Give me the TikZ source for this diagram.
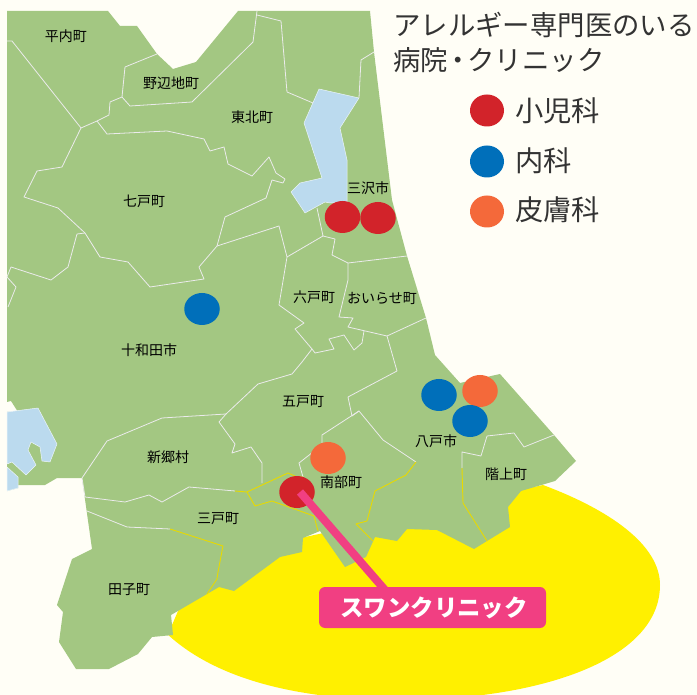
\documentclass[tikz,border=0pt]{standalone}
\usepackage{fontspec}
\setmainfont{Noto Sans CJK JP}
\definecolor{cream}{HTML}{FFFEF6}
\definecolor{land}{HTML}{A3C782}
\definecolor{lake}{HTML}{BBDAEE}
\definecolor{sea}{HTML}{FFF000}
\definecolor{bordery}{HTML}{E8DA00}
\definecolor{cred}{HTML}{D2232A}
\definecolor{cblue}{HTML}{006FBA}
\definecolor{corange}{HTML}{F4693A}
\definecolor{cpink}{HTML}{F13F82}
\definecolor{heading}{HTML}{333333}
\tikzset{
  wb/.style={draw=white!92!black,line width=0.8pt,line join=round},
  yb/.style={draw=bordery,line width=0.9pt,line join=round},
  lakeshape/.style={fill=lake,draw=white!70!lake,line width=0.5pt,line join=round},
  town/.style={font=\fontsize{14}{14}\selectfont,text=black,inner sep=0pt},
  dot/.style={ellipse,minimum width=35.5pt,minimum height=32pt,inner sep=0pt},
  legendtext/.style={font=\fontsize{28.3}{30}\selectfont,text=heading,inner sep=0pt,anchor=west},
}
\usetikzlibrary{shapes.geometric}
\begin{document}
\begin{tikzpicture}[x=1pt,y=-1pt]
\useasboundingbox (0,0) rectangle (697,695);
\fill[cream] (0,0) rectangle (697,695);
% yellow sea shape
\fill[sea] (543,485) .. controls (610,510) and (660,545) .. (660,585)
  .. controls (660,660) and (540,700) .. (400,700)
  .. controls (300,700) and (215,680) .. (165,632) -- (172,625) -- (200,560) -- cycle;
% land
\fill[land] (7,11) -- (108,11) -- (120,26) -- (137,26) -- (157,54) -- (173,69) -- (196,62) -- (238,11)
  -- (370,11) -- (374,52) -- (392,200) -- (407,256) -- (426,318) -- (435,355) -- (460,383) -- (500,374)
  -- (554,435) -- (576,461) -- (555,481) -- (521,491) -- (508,507) -- (510,527) -- (487,541) -- (474,549)
  -- (437,530) -- (407,529) -- (397,541) -- (375,537) -- (366,557) -- (345,567) -- (320,531) -- (303,538)
  -- (302,552) -- (280,557) -- (234,591) -- (219,587) -- (207,594) -- (171,615) -- (173,635) -- (152,637)
  -- (138,654) -- (109,669) -- (76,669) -- (59,642) -- (63,612) -- (57,605) -- (72,559) -- (92,549)
  -- (82,478) -- (57,478) -- (45,485) -- (18,485) -- (18,488) -- (7,491) -- (7,412) -- (18,412) -- (11,401) -- (7,402) -- cycle;
% lakes
\path[lakeshape] (319,89) -- (359,98) -- (340,128) -- (347,160) -- (347,202) -- (330,203) -- (325,202)
  -- (305,213) -- (291,192) -- (300,183) -- (322,178) -- (304,123) -- cycle;
\path[lakeshape] (7,412) -- (38,408) -- (57,444) -- (50,462) -- (42,461) -- (40,447) -- (31,442) -- (28,450)
  -- (36,465) -- (26,475) -- (12,462) -- (7,464) -- cycle;
\path[lakeshape] (7,467) -- (18,477) -- (18,488) -- (7,491) -- cycle;
% white borders
\draw[wb] (7,41) -- (12,41) -- (81,128) -- (62,167) -- (37,171) -- (24,197) -- (58,208) -- (85,233) -- (100,257)
  -- (128,262) -- (150,287) -- (204,279) -- (199,267) -- (217,246) -- (225,217) -- (266,198) -- (272,180)
  -- (283,183) -- (285,179) -- (276,173) -- (269,157) -- (252,176) -- (228,164) -- (224,147) -- (210,151)
  -- (204,139) -- (167,131) -- (107,134) -- (97,121);
\draw[wb] (85,233) -- (77,234) -- (68,267) -- (51,280) -- (11,267) -- (7,277) -- (16,287) -- (8,307);
\draw[wb] (81,128) -- (97,121) -- (109,115) -- (110,102) -- (122,97) -- (125,67) -- (157,54);
\draw[wb] (122,97) -- (130,106) -- (192,102) -- (253,42) -- (257,11);
\draw[wb] (257,15) -- (281,21) -- (287,92) -- (313,103);
\draw[wb] (374,52) -- (361,60) -- (359,98);
\draw[wb] (217,246) -- (279,226) -- (287,257) -- (279,305) -- (304,323) -- (295,329) -- (312,349);
\draw[wb] (317,208) -- (323,236) -- (287,257);
\draw[wb] (323,236) -- (335,239) -- (332,255) -- (348,263) -- (407,256);
\draw[wb] (348,263) -- (348,280) -- (339,317) -- (353,318) -- (348,327) -- (387,336) -- (426,318);
\draw[wb] (387,336) -- (397,371) -- (348,397) -- (352,416);
\draw[wb] (312,349) -- (315,353) -- (334,349) -- (329,339) -- (344,335) -- (354,350) -- (362,343) -- (364,331);
\draw[wb] (312,349) -- (302,362) -- (292,374) -- (258,384) -- (226,414) -- (162,418) -- (107,441) -- (82,478);
\draw[wb] (226,414) -- (219,422) -- (235,444) -- (232,453) -- (251,447) -- (262,463) -- (262,483);
\draw[wb] (352,416) -- (359,411) -- (383,440) -- (416,462);
\draw[wb] (359,411) -- (322,435) -- (322,445) -- (299,463) -- (303,477);
\draw[wb] (82,478) -- (85,497) -- (125,502) -- (149,495) -- (162,502) -- (189,487) -- (235,491);
\draw[wb] (87,511) -- (127,527) -- (170,529);
% Hachinohe / Hashikami border
\draw[wb] (554,435) -- (524,447) -- (514,433) -- (487,436) -- (481,456) -- (462,452) -- (462,468);
% yellow borders
\draw[yb] (416,462) -- (406,475) -- (375,491) -- (367,521) -- (356,524) -- (373,541);
\draw[yb] (235,491) -- (247,492) -- (288,473) -- (297,477) -- (303,477);
\draw[yb] (247,492) -- (255,506) -- (272,501) -- (314,516) -- (318,531);
\draw[yb] (170,529) -- (223,546) -- (218,572) -- (217,579) -- (207,594);
\draw[yb] (462,468) -- (463,503) -- (487,541);
% town labels
\node[town] (hiranai) at (66,36) {平内町};
\node[town] (noheji) at (171,83) {野辺地町};
\node[town] (tohoku) at (252,117) {東北町};
\node[town] (shichinohe) at (144,201) {七戸町};
\node[town] (misawa) at (368,188) {三沢市};
\node[town] (rokunohe) at (314,297) {六戸町};
\node[town] (oirase) at (382,298) {おいらせ町};
\node[town] (towada) at (149,350) {十和田市};
\node[town] (gonohe) at (303,402) {五戸町};
\node[town] (hachinohe) at (436,441) {八戸市};
\node[town] (hashikami) at (506,474) {階上町};
\node[town] (shingo) at (168,457) {新郷村};
\node[town] (nanbu) at (341,482) {南部町};
\node[town] (sannohe) at (218,519) {三戸町};
\node[town] (takko) at (129,590) {田子町};
% markers
\node[dot,fill=cred] (m1) at (342.5,217) {};
\node[dot,fill=cred] (m2) at (378,218) {};
\node[dot,fill=cblue] (m3) at (202,309) {};
\node[dot,fill=cblue] (m4) at (439,395) {};
\node[dot,fill=corange] (m5) at (480,391) {};
\node[dot,fill=cblue] (m6) at (470,421) {};
\node[dot,fill=corange] (m7) at (328,458) {};
\node[dot,fill=cred] (swanmark) at (297,492) {};
% legend
\node[font=\fontsize{27.4}{30}\selectfont,text=heading,inner sep=0pt,anchor=west] (title1) at (393,25) {アレルギー専門医のいる};
\node[font=\fontsize{27.4}{30}\selectfont,text=heading,inner sep=0pt,anchor=west] (title2) at (393,60) {病院\kern-4pt・\kern-4ptクリニック};
\node[dot,fill=cred,minimum width=34pt] (l1) at (487,110.5) {};
\node[dot,fill=cblue,minimum width=34pt] (l2) at (487,161.5) {};
\node[dot,fill=corange,minimum width=34pt] (l3) at (487,211.5) {};
\node[legendtext] (lt1) at (515,111) {小児科};
\node[legendtext] (lt2) at (515,161) {内科};
\node[legendtext] (lt3) at (515,210) {皮膚科};
% clinic label
\coordinate (swanstart) at (300,492);
\coordinate (swanend) at (385,590);
\draw[cpink,line width=8pt] (swanstart) -- (swanend);
\node[fill=cpink,rounded corners=6pt,minimum width=227pt,minimum height=41pt,inner sep=0pt,text=white,font=\bfseries\fontsize{23.4}{26}\selectfont] (swan) at (432.5,607.5) {\kern3pt スワンクリニック};
\end{tikzpicture}
\end{document}
